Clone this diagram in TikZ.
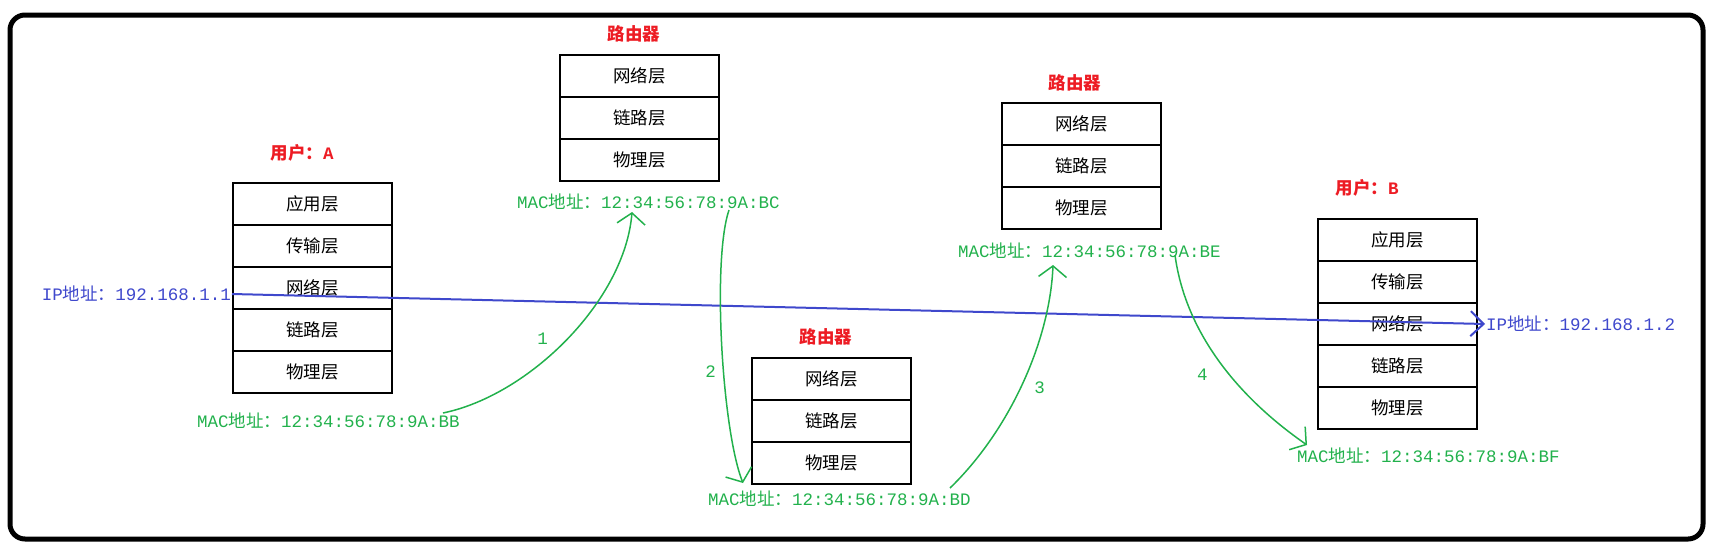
\documentclass[tikz,border=0pt]{standalone}
\usepackage{fontspec}
\setmainfont{Liberation Mono}
\newfontfamily\cjk{Noto Sans CJK SC}
\usetikzlibrary{arrows.meta, positioning}
\definecolor{macgreen}{RGB}{34,177,76}
\definecolor{ipblue}{RGB}{63,72,204}
\definecolor{labelred}{RGB}{237,28,36}
\newcommand\diagsize{\fontsize{17.5}{21}\selectfont}
\tikzset{
  layer/.style = {rectangle, draw, line width=2pt, outer sep=0pt, minimum width=159pt, minimum height=42pt, font=\diagsize\cjk},
  title/.style = {text=labelred, font=\diagsize\bfseries},
  macaddr/.style = {text=macgreen, inner sep=1pt, anchor=west},
  ipaddr/.style = {text=ipblue, inner sep=1pt},
  hop/.style = {macgreen, line width=1.5pt, -{Straight Barb[length=11pt,width=28pt]}},
  hopnum/.style = {text=macgreen, inner sep=1pt},
  ipline/.style = {ipblue, line width=2pt, -{Straight Barb[length=13pt,width=25pt]}},
  frame/.style = {line width=5pt, rounded corners=15pt}
}
\begin{document}
\begin{tikzpicture}[x=1pt, y=-1pt, node distance=0pt, font=\diagsize]
\useasboundingbox (0,0) rectangle (1716,550);
\draw[frame] (10,15) rectangle (1703,539);

% user A
\node[title] (tA) at (302,153) {{\cjk 用户：}A};
\node[layer, anchor=north west] (a1) at (233,183) {应用层};
\node[layer, below=of a1] (a2) {传输层};
\node[layer, below=of a2] (a3) {网络层};
\node[layer, below=of a3] (a4) {链路层};
\node[layer, below=of a4] (a5) {物理层};
\node[macaddr] (macBB) at (196,421) {MAC{\cjk 地址：}12:34:56:78:9A:BB};

% router 1
\node[title] (tR1) at (634,34) {{\cjk 路由器}};
\node[layer, anchor=north west] (r1n) at (560,55) {网络层};
\node[layer, below=of r1n] (r1l) {链路层};
\node[layer, below=of r1l] (r1p) {物理层};
\node[macaddr] (macBC) at (516,202) {MAC{\cjk 地址：}12:34:56:78:9A:BC};

% router 2
\node[title] (tR2) at (826,337) {{\cjk 路由器}};
\node[layer, anchor=north west] (r2n) at (752,358) {网络层};
\node[layer, below=of r2n] (r2l) {链路层};
\node[layer, below=of r2l] (r2p) {物理层};
\node[macaddr] (macBD) at (707,499) {MAC{\cjk 地址：}12:34:56:78:9A:BD};

% router 3
\node[title] (tR3) at (1075,83) {{\cjk 路由器}};
\node[layer, anchor=north west] (r3n) at (1002,103) {网络层};
\node[layer, below=of r3n] (r3l) {链路层};
\node[layer, below=of r3l] (r3p) {物理层};
\node[macaddr] (macBE) at (957,251) {MAC{\cjk 地址：}12:34:56:78:9A:BE};

% user B
\node[title] (tB) at (1367,188) {{\cjk 用户：}B};
\node[layer, anchor=north west] (b1) at (1318,219) {应用层};
\node[layer, below=of b1] (b2) {传输层};
\node[layer, below=of b2] (b3) {网络层};
\node[layer, below=of b3] (b4) {链路层};
\node[layer, below=of b4] (b5) {物理层};
\node[macaddr] (macBF) at (1296,456) {MAC{\cjk 地址：}12:34:56:78:9A:BF};

% IP addresses
\node[ipaddr, anchor=east] (ipA) at (232,294) {IP{\cjk 地址：}192.168.1.1};
\node[ipaddr, anchor=west] (ipB) at (1485,324) {IP{\cjk 地址：}192.168.1.2};
\draw[ipline] (ipA.east) -- (ipB.west);

% hops
\coordinate (h1s) at (443,413);
\coordinate (h1e) at (632,212);
\coordinate (h2s) at (729,210);
\coordinate (h2e) at (743,483);
\coordinate (h3s) at (950,488);
\coordinate (h3e) at (1053,265);
\coordinate (h4s) at (1175,255);
\coordinate (h4e) at (1307,445);
\draw[hop] (h1s) .. controls (530,395) and (625,300) .. node[hopnum, pos=0.5, left=18pt] {1} (h1e);
\draw[hop] (h2s) .. controls (712,260) and (722,430) .. node[hopnum, pos=0.58, left=6pt] {2} (h2e);
\draw[hop] (h3s) .. controls (1010,430) and (1050,340) .. node[hopnum, pos=0.48, right=12pt] {3} (h3e);
\draw[hop] (h4s) .. controls (1185,330) and (1235,395) .. node[hopnum, pos=0.58, left=20pt] {4} (h4e);

\end{tikzpicture}
\end{document}
